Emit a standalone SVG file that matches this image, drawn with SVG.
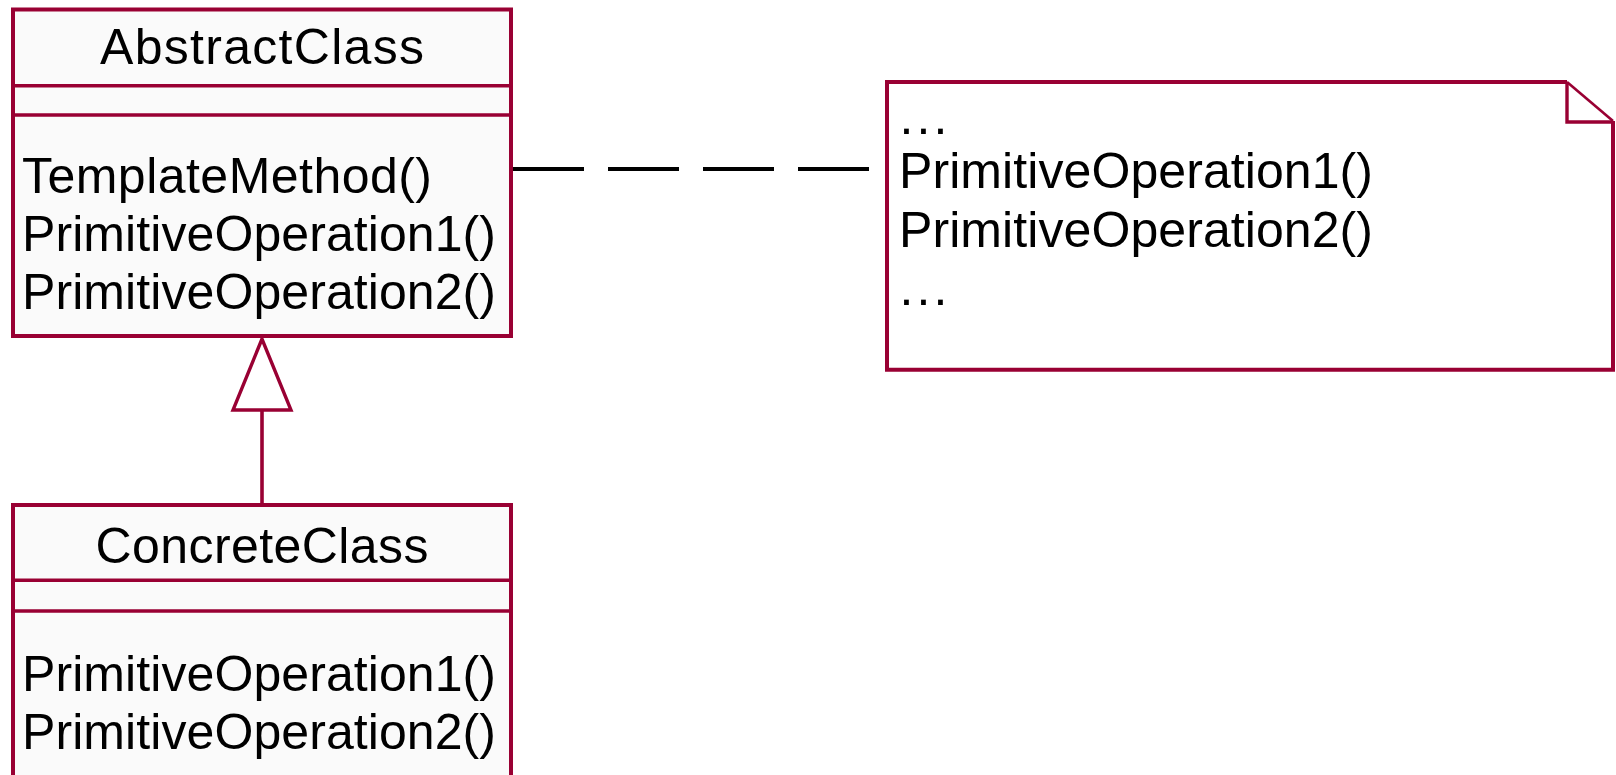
<svg xmlns="http://www.w3.org/2000/svg" width="1616" height="775" viewBox="0 0 1616 775">
  <style>
    .box { fill: #FAFAFA; stroke: #990033; stroke-width: 4; }
    .sep { stroke: #990033; stroke-width: 3.4; fill: none; }
    .note-bg { fill: #FFFFFF; stroke: none; }
    .note { fill: none; stroke: #990033; stroke-width: 4; }
    .fold { fill: none; stroke: #990033; stroke-width: 3.4; }
    .fold-diag { fill: none; stroke: #990033; stroke-width: 2.6; }
    .txt { font-family: "Liberation Sans", Arial, sans-serif; font-size: 50px; fill: #000000; }
    .title { text-anchor: middle; }
    .gen { fill: #FFFFFF; stroke: #990033; stroke-width: 3.4; }
    .edge { stroke: #990033; stroke-width: 3.6; fill: none; }
    .dep { stroke: #000000; stroke-width: 4; stroke-dasharray: 71 24; fill: none; }
  </style>

  <!-- connectors -->
  <g id="connectors">
    <line class="dep" x1="513" y1="169" x2="886" y2="169"/>
    <line class="edge" x1="262" y1="410" x2="262" y2="504"/>
    <polygon class="gen" points="262,339 233,410 291,410"/>
  </g>

  <!-- abstract class -->
  <g id="AbstractClass">
    <rect class="box" x="13" y="9.5" width="498" height="326.5"/>
    <line class="sep" x1="13" y1="85.7" x2="511" y2="85.7"/>
    <line class="sep" x1="13" y1="115" x2="511" y2="115"/>
    <text class="txt title" x="262" y="64" textLength="324" lengthAdjust="spacing">AbstractClass</text>
    <text class="txt" x="22" y="192.5" textLength="410" lengthAdjust="spacing">TemplateMethod()</text>
    <text class="txt" x="22" y="250.7" textLength="474" lengthAdjust="spacing">PrimitiveOperation1()</text>
    <text class="txt" x="22" y="309.3" textLength="474" lengthAdjust="spacing">PrimitiveOperation2()</text>
  </g>

  <!-- concrete class -->
  <g id="ConcreteClass">
    <rect class="box" x="13" y="505" width="498" height="320"/>
    <line class="sep" x1="13" y1="580.3" x2="511" y2="580.3"/>
    <line class="sep" x1="13" y1="611" x2="511" y2="611"/>
    <text class="txt title" x="262" y="563.3" textLength="333" lengthAdjust="spacing">ConcreteClass</text>
    <text class="txt" x="22" y="691" textLength="474" lengthAdjust="spacing">PrimitiveOperation1()</text>
    <text class="txt" x="22" y="749.3" textLength="474" lengthAdjust="spacing">PrimitiveOperation2()</text>
  </g>

  <!-- note with folded corner -->
  <g id="Note">
    <path class="note-bg" d="M887,82 H1567 L1613,121 V369.7 H887 Z"/>
    <path class="note" d="M1567,82 H887 V369.7 H1613 V121"/>
    <path class="fold-diag" d="M1567,82 L1613,121"/>
    <path class="fold" d="M1567,82 V122 H1613"/>
    <text class="txt" x="899.5" y="134.3" textLength="48" lengthAdjust="spacing">...</text>
    <text class="txt" x="899" y="188.3" textLength="474" lengthAdjust="spacing">PrimitiveOperation1()</text>
    <text class="txt" x="899" y="246.7" textLength="474" lengthAdjust="spacing">PrimitiveOperation2()</text>
    <text class="txt" x="899.5" y="305" textLength="48" lengthAdjust="spacing">...</text>
  </g>
</svg>
